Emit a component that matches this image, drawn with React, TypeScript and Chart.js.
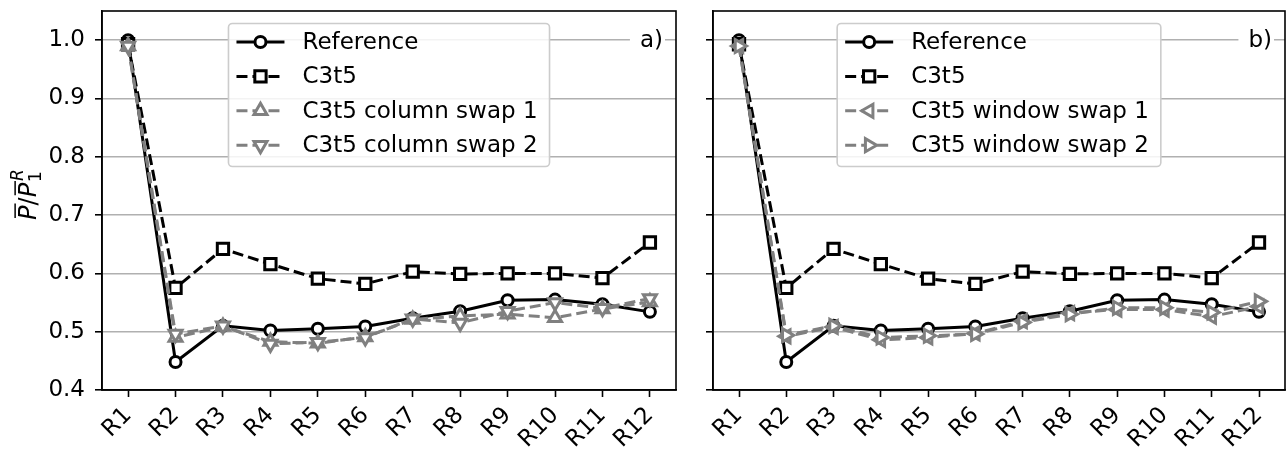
import React, { useEffect, useRef } from "react";
import { Chart, registerables } from "chart.js";

Chart.register(...registerables);

// ---------------- data ----------------
const categories = ["R1", "R2", "R3", "R4", "R5", "R6", "R7", "R8", "R9", "R10", "R11", "R12"];
const yTickValues = [0.4, 0.5, 0.6, 0.7, 0.8, 0.9, 1.0];

const reference = [1.0, 0.448, 0.51, 0.502, 0.505, 0.509, 0.523, 0.535, 0.554, 0.555, 0.547, 0.534];
const c3t5 = [0.993, 0.575, 0.642, 0.616, 0.591, 0.582, 0.603, 0.599, 0.6, 0.6, 0.592, 0.653];
const columnSwap1 = [0.99, 0.49, 0.509, 0.483, 0.48, 0.491, 0.521, 0.527, 0.53, 0.524, 0.539, 0.551];
const columnSwap2 = [0.99, 0.496, 0.51, 0.479, 0.482, 0.49, 0.522, 0.515, 0.535, 0.55, 0.54, 0.557];
const windowSwap1 = [0.99, 0.492, 0.508, 0.486, 0.49, 0.497, 0.518, 0.532, 0.538, 0.538, 0.526, 0.543];
const windowSwap2 = [0.99, 0.494, 0.51, 0.49, 0.493, 0.496, 0.516, 0.53, 0.541, 0.541, 0.533, 0.552];

const labelsA = ["Reference", "C3t5", "C3t5 column swap 1", "C3t5 column swap 2"];
const labelsB = ["Reference", "C3t5", "C3t5 window swap 1", "C3t5 window swap 2"];

// ---------------- styles ----------------
const FONT = '"DejaVu Sans", "Liberation Sans", sans-serif';
const FS = 23;
const BLACK = "#000000";
const GRAY = "#808080";
const DASH = [11, 5];

type Mk = { color: string; dash: number[]; pointStyle: string; radius: number; rotation: number };

const stylesA: Mk[] = [
  { color: BLACK, dash: [], pointStyle: "circle", radius: 5.5, rotation: 0 },
  { color: BLACK, dash: DASH, pointStyle: "rect", radius: 8, rotation: 0 },
  { color: GRAY, dash: DASH, pointStyle: "triangle", radius: 7.5, rotation: 0 },
  { color: GRAY, dash: DASH, pointStyle: "triangle", radius: 7.5, rotation: 180 },
];
const stylesB: Mk[] = [
  { color: BLACK, dash: [], pointStyle: "circle", radius: 5.5, rotation: 0 },
  { color: BLACK, dash: DASH, pointStyle: "rect", radius: 8, rotation: 0 },
  { color: GRAY, dash: DASH, pointStyle: "triangle", radius: 7.5, rotation: 270 },
  { color: GRAY, dash: DASH, pointStyle: "triangle", radius: 7.5, rotation: 90 },
];

function drawMarker(ctx: CanvasRenderingContext2D, st: Mk, x: number, y: number) {
  ctx.beginPath();
  if (st.pointStyle === "circle") {
    ctx.arc(x, y, st.radius, 0, Math.PI * 2);
  } else if (st.pointStyle === "rect") {
    const s = Math.SQRT1_2 * st.radius;
    ctx.rect(x - s, y - s, 2 * s, 2 * s);
  } else {
    let rad = (st.rotation * Math.PI) / 180;
    const r = st.radius;
    ctx.moveTo(x + Math.sin(rad) * r, y - Math.cos(rad) * r);
    rad += (2 * Math.PI) / 3;
    ctx.lineTo(x + Math.sin(rad) * r, y - Math.cos(rad) * r);
    rad += (2 * Math.PI) / 3;
    ctx.lineTo(x + Math.sin(rad) * r, y - Math.cos(rad) * r);
    ctx.closePath();
  }
  ctx.fillStyle = "#ffffff";
  ctx.fill();
  ctx.setLineDash([]);
  ctx.lineWidth = 3;
  ctx.strokeStyle = st.color;
  ctx.stroke();
}

// ---------------- plugins ----------------
const framePlugin = {
  id: "frame",
  afterDatasetsDraw(chart: any) {
    const { ctx, chartArea: a } = chart;
    ctx.save();
    ctx.strokeStyle = "#000";
    ctx.lineWidth = 1.6;
    ctx.setLineDash([]);
    ctx.strokeRect(a.left, a.top, a.right - a.left, a.bottom - a.top);
    ctx.restore();
  },
};

const legendPlugin = {
  id: "mplLegend",
  afterDraw(chart: any, _args: any, opts: any) {
    const { ctx, chartArea: a } = chart;
    const labels: string[] = opts.labels;
    const styles: Mk[] = opts.styles;
    ctx.save();
    ctx.font = `${FS}px ${FONT}`;
    let maxW = 0;
    labels.forEach((l) => (maxW = Math.max(maxW, ctx.measureText(l).width)));
    const boxW = 8 + 48 + 18 + maxW + 12;
    const boxH = 143;
    const boxX = (a.left + a.right) / 2 - boxW / 2;
    const boxY = a.top + 12.5;
    ctx.beginPath();
    ctx.roundRect(boxX, boxY, boxW, boxH, 4);
    ctx.fillStyle = "rgba(255,255,255,0.85)";
    ctx.fill();
    ctx.lineWidth = 1.6;
    ctx.strokeStyle = "#cccccc";
    ctx.stroke();
    labels.forEach((l, i) => {
      const st = styles[i];
      const y = boxY + 18.5 + i * 34.4;
      const x0 = boxX + 8;
      ctx.beginPath();
      ctx.setLineDash(st.dash);
      ctx.lineWidth = 3;
      ctx.strokeStyle = st.color;
      ctx.moveTo(x0, y);
      ctx.lineTo(x0 + 48, y);
      ctx.stroke();
      ctx.setLineDash([]);
      drawMarker(ctx, st, x0 + 24, y);
      ctx.fillStyle = "#000";
      ctx.textAlign = "left";
      ctx.textBaseline = "middle";
      ctx.font = `${FS}px ${FONT}`;
      ctx.fillText(l, x0 + 66, y + 1);
    });
    ctx.restore();
  },
};

const letterPlugin = {
  id: "panelLetter",
  afterDraw(chart: any, _args: any, opts: any) {
    const { ctx, chartArea: a } = chart;
    ctx.save();
    ctx.font = `${FS}px ${FONT}`;
    const w = ctx.measureText(opts.text).width;
    const right = a.right - 13;
    const y = a.top + 29;
    ctx.fillStyle = "#fff";
    ctx.fillRect(right - w - 10, y - 13, w + 12, 26);
    ctx.fillStyle = "#000";
    ctx.textAlign = "right";
    ctx.textBaseline = "middle";
    ctx.fillText(opts.text, right, y + 1);
    ctx.restore();
  },
};

const yLabelPlugin = {
  id: "yLabel",
  afterDraw(chart: any, _args: any, opts: any) {
    if (!opts.show) return;
    const { ctx, chartArea: a } = chart;
    const fs = 24;
    const fsS = 17;
    const it = `italic ${fs}px ${FONT}`;
    const rm = `${fs}px ${FONT}`;
    const smR = `${fsS}px ${FONT}`;
    const smI = `italic ${fsS}px ${FONT}`;
    ctx.save();
    ctx.translate(36, (a.top + a.bottom) / 2 - 6);
    ctx.rotate(-Math.PI / 2);
    ctx.font = it;
    const wP = ctx.measureText("P").width;
    ctx.font = rm;
    const wS = ctx.measureText("/").width;
    ctx.font = smR;
    const w1 = ctx.measureText("1").width;
    ctx.font = smI;
    const wR = ctx.measureText("R").width;
    const total = wP + wS + wP + Math.max(w1, wR) + 2;
    let x = -total / 2;
    ctx.fillStyle = "#000";
    ctx.strokeStyle = "#000";
    ctx.lineWidth = 1.5;
    ctx.textBaseline = "alphabetic";
    ctx.textAlign = "left";
    const overline = (x0: number) => {
      ctx.beginPath();
      ctx.moveTo(x0 + 2, -fs * 0.87);
      ctx.lineTo(x0 + wP + 2, -fs * 0.87);
      ctx.stroke();
    };
    ctx.font = it;
    ctx.fillText("P", x, 0);
    overline(x);
    x += wP;
    ctx.font = rm;
    ctx.fillText("/", x, 0);
    x += wS;
    ctx.font = it;
    ctx.fillText("P", x, 0);
    overline(x);
    x += wP + 1;
    ctx.font = smR;
    ctx.fillText("1", x, 5);
    ctx.font = smI;
    ctx.fillText("R", x + 1, -fs * 0.55);
    ctx.restore();
  },
};

// ---------------- chart panel ----------------
type PanelProps = {
  left: number;
  width: number;
  labels: string[];
  series: number[][];
  styles: Mk[];
  showYLabels: boolean;
  yAxisWidth: number;
  padRight: number;
  letter: string;
};

function Panel(p: PanelProps) {
  const ref = useRef<HTMLCanvasElement>(null);
  useEffect(() => {
    const datasets = p.series.map((vals, i) => {
      const st = p.styles[i];
      return {
        label: p.labels[i],
        data: vals.map((v, k) => ({ x: k, y: v })),
        borderColor: st.color,
        borderWidth: 3,
        borderDash: st.dash,
        pointStyle: st.pointStyle,
        pointRadius: st.radius,
        pointRotation: st.rotation,
        pointBorderColor: st.color,
        pointBackgroundColor: "#ffffff",
        pointBorderWidth: 3,
        tension: 0,
        fill: false,
        order: p.series.length - i,
      };
    });
    const chart = new Chart(ref.current as HTMLCanvasElement, {
      type: "line",
      data: { datasets } as any,
      options: {
        animation: false,
        responsive: false,
        devicePixelRatio: 1,
        events: [],
        layout: { padding: { left: 0, right: p.padRight, top: 9, bottom: 0 } },
        plugins: {
          legend: { display: false },
          tooltip: { enabled: false },
          mplLegend: { labels: p.labels, styles: p.styles },
          panelLetter: { text: p.letter },
          yLabel: { show: p.showYLabels },
        } as any,
        scales: {
          x: {
            type: "linear",
            min: -0.55,
            max: categories.length - 1 + 0.55,
            afterBuildTicks: (s: any) => {
              s.ticks = categories.map((_, i) => ({ value: i }));
            },
            afterFit: (s: any) => {
              s.height = 60;
              s.paddingLeft = 0;
              s.paddingRight = 0;
              s.paddingTop = 0;
              s.paddingBottom = 0;
            },
            ticks: {
              autoSkip: false,
              minRotation: 45,
              maxRotation: 45,
              padding: 5,
              color: "#000",
              font: { family: FONT, size: FS },
              callback: (v: any) => categories[Math.round(Number(v))] ?? "",
            },
            grid: {
              drawOnChartArea: false,
              drawTicks: true,
              tickLength: 7,
              tickColor: "#000",
              tickWidth: 1.6,
            },
            border: { display: true, color: "#000", width: 1.6 },
          },
          y: {
            type: "linear",
            min: 0.4,
            max: 1.05,
            afterBuildTicks: (s: any) => {
              s.ticks = yTickValues.map((v) => ({ value: v }));
            },
            afterFit: (s: any) => {
              s.width = p.yAxisWidth;
              s.paddingLeft = 0;
              s.paddingRight = 0;
              s.paddingTop = 0;
              s.paddingBottom = 0;
            },
            ticks: {
              display: p.showYLabels,
              padding: 10,
              color: "#000",
              font: { family: FONT, size: FS },
              callback: (v: any) => Number(v).toFixed(1),
            },
            grid: {
              color: "#b0b0b0",
              lineWidth: 1.6,
              drawTicks: true,
              tickLength: 7,
              tickColor: "#000",
              tickWidth: 1.6,
            },
            border: { display: true, color: "#000", width: 1.6 },
          },
        },
      } as any,
      plugins: [framePlugin, yLabelPlugin, letterPlugin, legendPlugin],
    });
    return () => chart.destroy();
  }, []);
  return (
    <canvas
      ref={ref}
      width={p.width}
      height={450}
      style={{ position: "absolute", left: p.left, top: 0, width: p.width, height: 450 }}
    />
  );
}

export default function App() {
  return (
    <div style={{ position: "fixed", left: 0, top: 0, width: 1287, height: 450, background: "#fff", overflow: "hidden" }}>
      <Panel
        left={0}
        width={690}
        labels={labelsA}
        series={[reference, c3t5, columnSwap1, columnSwap2]}
        styles={stylesA}
        showYLabels={true}
        yAxisWidth={102}
        padRight={14}
        letter="a)"
      />
      <Panel
        left={690}
        width={620}
        labels={labelsB}
        series={[reference, c3t5, windowSwap1, windowSwap2]}
        styles={stylesB}
        showYLabels={false}
        yAxisWidth={23}
        padRight={25}
        letter="b)"
      />
    </div>
  );
}
